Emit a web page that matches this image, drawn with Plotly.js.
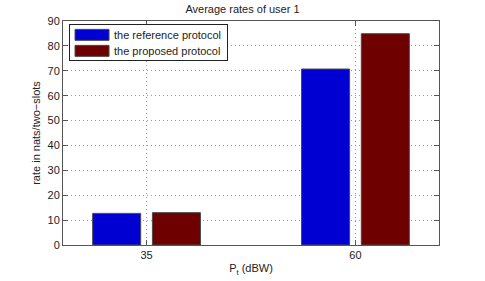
<!DOCTYPE html>
<html>
<head>
<meta charset="utf-8">
<script src="https://cdn.plot.ly/plotly-3.0.1.min.js"></script>
<style>
html,body{margin:0;padding:0;background:#fff;}
#chart{width:485px;height:281px;}
</style>
</head>
<body>
<div id="chart"></div>
<script>
const powers = [35, 60];
const tickLabels = ['35', '60'];
const referenceRates = [12.7, 70.7];
const proposedRates = [13.0, 84.9];
const seriesNames = ['the reference protocol', 'the proposed protocol'];

const FONT = 'Liberation Sans, Arial, Helvetica, sans-serif';

const traces = [
  {
    type: 'bar', x: powers, y: referenceRates, name: seriesNames[0],
    marker: {color: '#0000D2', line: {color: '#4a4a4a', width: 1}}
  },
  {
    type: 'bar', x: powers, y: proposedRates, name: seriesNames[1],
    marker: {color: '#6E0000', line: {color: '#4a4a4a', width: 1}}
  }
];

const layout = {
  width: 485, height: 281,
  margin: {l: 63, r: 46, t: 21, b: 36, pad: 0},
  paper_bgcolor: '#fff', plot_bgcolor: '#fff',
  barmode: 'group', bargap: 0.428, bargroupgap: 0.196,
  font: {family: FONT, size: 11, color: '#222'},
  title: {text: 'Average rates of user 1', font: {size: 11, color: '#222'}, x: 0.5, xanchor: 'center', y: 0.968, yanchor: 'middle'},
  xaxis: {
    range: [25, 70], tickvals: powers, ticktext: tickLabels,
    ticks: 'inside', ticklen: 5, tickcolor: '#555', mirror: 'ticks',
    showline: true, linecolor: '#555', linewidth: 1,
    showgrid: true, gridcolor: '#999', griddash: '1px,3px', gridwidth: 1,
    zeroline: false,
    tickfont: {size: 11, color: '#222'},
    title: {text: 'P<sub>t</sub> (dBW)', font: {size: 11, color: '#222'}, standoff: 4}
  },
  yaxis: {
    range: [0, 90], dtick: 10,
    ticks: 'inside', ticklen: 5, tickcolor: '#555', mirror: 'ticks',
    showline: true, linecolor: '#555', linewidth: 1,
    showgrid: true, gridcolor: '#999', griddash: '1px,3px', gridwidth: 1,
    zeroline: false,
    tickfont: {size: 11, color: '#222'},
    title: {text: 'rate in nats/two\u2212slots', font: {size: 11, color: '#222'}, standoff: 4}
  },
  legend: {
    x: 0.016, y: 0.985, xanchor: 'left', yanchor: 'top',
    bgcolor: '#fff', bordercolor: '#222', borderwidth: 1,
    font: {size: 11, color: '#222'}, tracegroupgap: 0, itemwidth: 34
  },
  showlegend: true
};

Plotly.newPlot('chart', traces, layout, {displayModeBar: false, staticPlot: true}).then(function (gd) {
  // MATLAB-style wide legend patches
  gd.querySelectorAll('.legend .legendpoints path').forEach(function (p) {
    p.setAttribute('d', 'M17,5.5H-17V-5.5H17Z');
  });
  // MATLAB-style compact legend box
  const bg = gd.querySelector('.legend .bg');
  const items = Array.from(gd.querySelectorAll('.legend .traces'));
  if (bg && items.length) {
    const bgY = parseFloat(bg.getAttribute('y') || 0);
    const bgH = parseFloat(bg.getAttribute('height'));
    const parse = function (el) {
      const m = /translate\(\s*([-\d.e]+)[ ,]+([-\d.e]+)\s*\)/.exec(el.getAttribute('transform') || '');
      return m ? [parseFloat(m[1]), parseFloat(m[2])] : [0, 0];
    };
    const pos = items.map(parse);
    const n = pos.length;
    const mid = (pos[0][1] + pos[n - 1][1]) / 2;
    const off = mid - (bgY + bgH / 2);
    const step = 16, newH = 36;
    bg.setAttribute('height', newH);
    const c = bgY + newH / 2 + off;
    items.forEach(function (el, i) {
      const y = c + (i - (n - 1) / 2) * step;
      el.setAttribute('transform', 'translate(' + pos[i][0] + ',' + y + ')');
    });
  }
});
</script>
</body>
</html>
